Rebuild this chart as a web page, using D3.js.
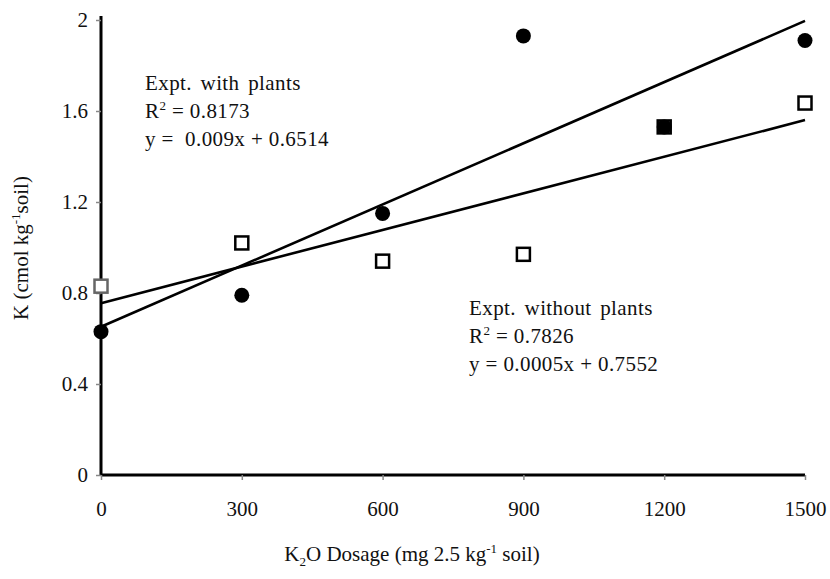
<!DOCTYPE html>
<html>
<head>
<meta charset="utf-8">
<script src="https://cdn.jsdelivr.net/npm/d3@7"></script>
<style>
  body { margin: 0; background: #fff; }
  text { font-family: "Liberation Serif", "Times New Roman", serif; fill: #111; }
</style>
</head>
<body>
<div id="chart"></div>
<script>
// K2O dosage levels
const dosages = [0, 300, 600, 900, 1200, 1500];
// K with plants (filled circles)
const withPlants = [0.63, 0.79, 1.15, 1.93, 1.53, 1.91];
// K without plants (open squares)
const withoutPlants = [0.83, 1.02, 0.94, 0.97, 1.53, 1.635];
// fitted lines, values at x = 0 and x = 1500
const trendX = [0, 1500];
const trendWith = [0.6514, 1.996];
const trendWithout = [0.7552, 1.56];
const xTicks = [0, 300, 600, 900, 1200, 1500];
const yTicks = [0, 0.4, 0.8, 1.2, 1.6, 2];

const width = 830, height = 579;
const svg = d3.select("#chart").append("svg").attr("width", width).attr("height", height);

const x = d3.scaleLinear().domain([0, 1500]).range([101, 805]);
const y = d3.scaleLinear().domain([0, 2]).range([475, 20]);

// Axes
const yAxis = svg.append("g").attr("transform", "translate(101,0)")
    .call(d3.axisLeft(y).tickValues(yTicks).tickFormat(d => d).tickSize(5).tickPadding(8));
const xAxis = svg.append("g").attr("transform", "translate(0,475)")
    .call(d3.axisBottom(x).tickValues(xTicks).tickFormat(d => d).tickSize(5).tickPadding(21));

[xAxis, yAxis].forEach(a => {
    a.select(".domain").attr("stroke", "#000").attr("stroke-width", 3);
    a.selectAll(".tick line").attr("stroke", "#888").attr("stroke-width", 1.5);
    a.selectAll(".tick text").attr("font-size", 21).attr("font-family", "Liberation Serif").attr("fill", "#111");
});
xAxis.select(".domain").attr("d", "M101,0H805");
yAxis.select(".domain").attr("d", "M0,475V16");

// Trend lines
const line = d3.line().x(d => x(d[0])).y(d => y(d[1]));
[trendWith, trendWithout].forEach(t => {
    svg.append("path")
        .datum(trendX.map((v, i) => [v, t[i]]))
        .attr("fill", "none")
        .attr("stroke", "#000")
        .attr("stroke-width", 2.6)
        .attr("d", line);
});

// Open squares (without plants)
svg.append("g").selectAll("rect")
    .data(dosages.map((d, i) => [d, withoutPlants[i]]))
    .enter().append("rect")
    .attr("x", d => x(d[0]) - 6.5)
    .attr("y", d => y(d[1]) - 6.5)
    .attr("width", 13)
    .attr("height", 13)
    .attr("fill", "#fff")
    .attr("stroke", (d, i) => i === 0 ? "#666" : "#000")
    .attr("stroke-width", 2.5);

// Filled circles (with plants)
svg.append("g").selectAll("circle")
    .data(dosages.map((d, i) => [d, withPlants[i]]))
    .enter().append("circle")
    .attr("cx", d => x(d[0]))
    .attr("cy", d => y(d[1]))
    .attr("r", 7.5)
    .attr("fill", "#000");

// Annotations
function eqBlock(x0, y0, title, r2, eq) {
    const g = svg.append("g").attr("font-size", 21).attr("letter-spacing", 0.4);
    g.append("text").attr("x", x0).attr("y", y0).attr("word-spacing", 3).text(title);
    const t = g.append("text").attr("x", x0).attr("y", y0 + 28);
    t.append("tspan").text("R");
    t.append("tspan").attr("font-size", 13).attr("dy", -8).text("2");
    t.append("tspan").attr("dy", 8).text(" = " + r2);
    g.append("text").attr("x", x0).attr("y", y0 + 56).style("white-space", "pre").text(eq);
}
eqBlock(145, 90, "Expt. with plants", "0.8173", "y =  0.009x + 0.6514");
eqBlock(469, 315, "Expt. without plants", "0.7826", "y = 0.0005x + 0.7552");

// Axis titles
const xt = svg.append("text").attr("x", 412).attr("y", 561).attr("text-anchor", "middle").attr("font-size", 21);
xt.append("tspan").text("K");
xt.append("tspan").attr("font-size", 13).attr("dy", 5).text("2");
xt.append("tspan").attr("dy", -5).text("O Dosage (mg 2.5 kg");
xt.append("tspan").attr("font-size", 13).attr("dy", -8).text("-1");
xt.append("tspan").attr("dy", 8).text(" soil)");

const yt = svg.append("text").attr("transform", "translate(28,248) rotate(-90)")
    .attr("text-anchor", "middle").attr("font-size", 21);
yt.append("tspan").text("K (cmol kg");
yt.append("tspan").attr("font-size", 13).attr("dy", -8).text("-1");
yt.append("tspan").attr("dy", 8).text("soil)");
</script>
</body>
</html>
